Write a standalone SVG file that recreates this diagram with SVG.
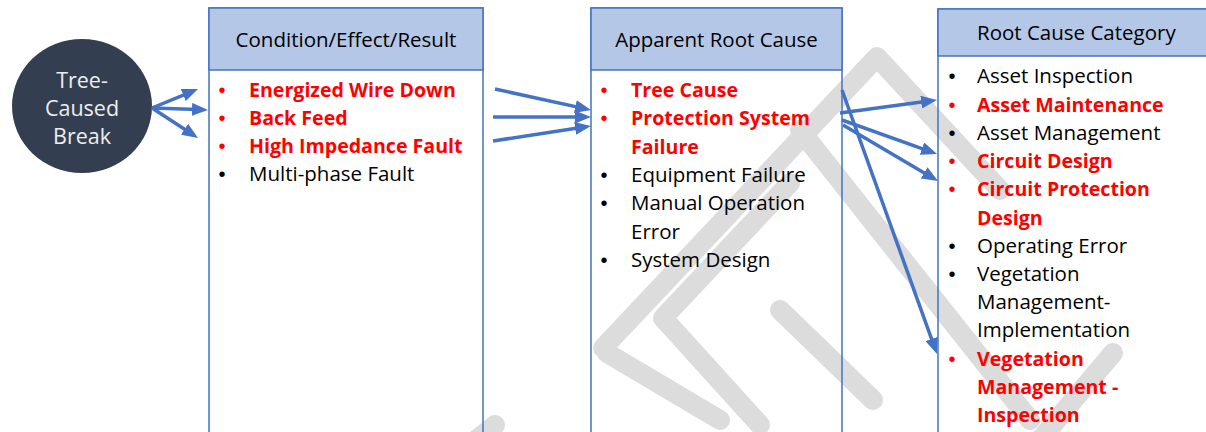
<svg xmlns="http://www.w3.org/2000/svg" width="1206" height="432" viewBox="0 0 1206 432">
<style>
text{font-family:"Open Sans","Liberation Sans",sans-serif;font-size:20.5px;fill:#000}
.r{fill:#ff0000;font-weight:bold;font-size:19.6px}
.b{text-anchor:middle;font-family:"Liberation Sans",sans-serif;font-size:20px;font-weight:normal}
.h{text-anchor:middle}
.hdr{fill:#b4c7e7;stroke:#4472c4;stroke-width:1.5}
.box{fill:none;stroke:#4472c4;stroke-width:1.5}
.wm{fill:none;stroke:#dcdcdc;stroke-width:20;stroke-linecap:round;stroke-linejoin:round}
.con{fill:none;stroke:#4472c4;stroke-width:3.5;marker-end:url(#ah)}
.ct{fill:#eeeeee;text-anchor:middle;font-size:21.5px}
</style>
<defs>
<marker id="ah" markerUnits="userSpaceOnUse" markerWidth="16" markerHeight="13" viewBox="0 0 16 13" refX="6" refY="6.5" orient="auto">
<path d="M0,0 L16,6.5 L0,13 z" fill="#4472c4"/>
</marker>
</defs>
<rect width="1206" height="432" fill="#fff"/>
<g id="watermark">
<path class="wm" d="M603,348 L877,57 L1000,190"/>
<path class="wm" d="M800,130 L1030,420"/>
<path class="wm" d="M607,353 L720,420"/>
<path class="wm" d="M790,183 L663,318 L760,425"/>
<path class="wm" d="M780,310 L873,400"/>
<path class="wm" d="M1113,353 L1040,440"/>
<path class="wm" d="M470,445 L495,425"/>
</g>
<g id="source">
<ellipse cx="82" cy="106" rx="70" ry="67" fill="#333f50"/>
<text class="ct" x="82" y="88">Tree-</text>
<text class="ct" x="82" y="116">Caused</text>
<text class="ct" x="82" y="144">Break</text>
</g>
<g id="condition">
<rect class="box" x="209" y="8" width="274" height="440"/>
<rect class="hdr" x="209" y="8" width="274" height="62"/>
<text class="h" x="346" y="47">Condition/Effect/Result</text>
<text class="b r" x="222" y="97">•</text><text class="r" x="249" y="97">Energized Wire Down</text>
<text class="b r" x="222" y="125">•</text><text class="r" x="249" y="125">Back Feed</text>
<text class="b r" x="222" y="153">•</text><text class="r" x="249" y="153">High Impedance Fault</text>
<text class="b" x="222" y="181">•</text><text x="249" y="181">Multi-phase Fault</text>
</g>
<g id="apparent">
<rect class="box" x="591" y="8" width="251" height="440"/>
<rect class="hdr" x="591" y="8" width="251" height="62"/>
<text class="h" x="716.5" y="47">Apparent Root Cause</text>
<text class="b r" x="604" y="97">•</text><text class="r" x="631" y="97">Tree Cause</text>
<text class="b r" x="604" y="125.3">•</text><text class="r" x="631" y="125.3">Protection System</text>
<text class="r" x="631" y="153.6">Failure</text>
<text class="b" x="604" y="182">•</text><text x="631" y="182">Equipment Failure</text>
<text class="b" x="604" y="210">•</text><text x="631" y="210">Manual Operation</text>
<text x="631" y="238.5">Error</text>
<text class="b" x="604" y="267">•</text><text x="631" y="267">System Design</text>
</g>
<g id="category">
<rect class="box" x="938" y="9" width="290" height="440"/>
<rect class="hdr" x="938" y="9" width="290" height="47"/>
<text x="977" y="40">Root Cause Category</text>
<text class="b" x="952" y="83">•</text><text x="977" y="83">Asset Inspection</text>
<text class="b r" x="952" y="111.5">•</text><text class="r" x="977" y="111.5">Asset Maintenance</text>
<text class="b" x="952" y="139.5">•</text><text x="977" y="139.5">Asset Management</text>
<text class="b r" x="952" y="168">•</text><text class="r" x="977" y="168">Circuit Design</text>
<text class="b r" x="952" y="196">•</text><text class="r" x="977" y="196">Circuit Protection</text>
<text class="r" x="977" y="224.5">Design</text>
<text class="b" x="952" y="252.5">•</text><text x="977" y="252.5">Operating Error</text>
<text class="b" x="952" y="281">•</text><text x="977" y="281">Vegetation</text>
<text x="977" y="309">Management-</text>
<text x="977" y="337">Implementation</text>
<text class="b r" x="952" y="365.5">•</text><text class="r" x="977" y="365.5">Vegetation</text>
<text class="r" x="977" y="393.5">Management -</text>
<text class="r" x="977" y="422">Inspection</text>
</g>
<g id="connectors">
<line class="con" x1="152" y1="108" x2="188.8" y2="92.8"/>
<line class="con" x1="152" y1="108" x2="198" y2="109.6"/>
<line class="con" x1="152" y1="108" x2="189.6" y2="132.5"/>
<line class="con" x1="495" y1="89" x2="581.2" y2="107.9"/>
<line class="con" x1="493" y1="117" x2="581" y2="117"/>
<line class="con" x1="493" y1="141" x2="581.1" y2="127.5"/>
<line class="con" x1="840" y1="113" x2="927.1" y2="101.3"/>
<line class="con" x1="842" y1="120" x2="927.6" y2="150.6"/>
<line class="con" x1="843" y1="125" x2="929.4" y2="175.9"/>
<line class="con" x1="842" y1="90" x2="933.6" y2="344.6"/>
</g>
</svg>
